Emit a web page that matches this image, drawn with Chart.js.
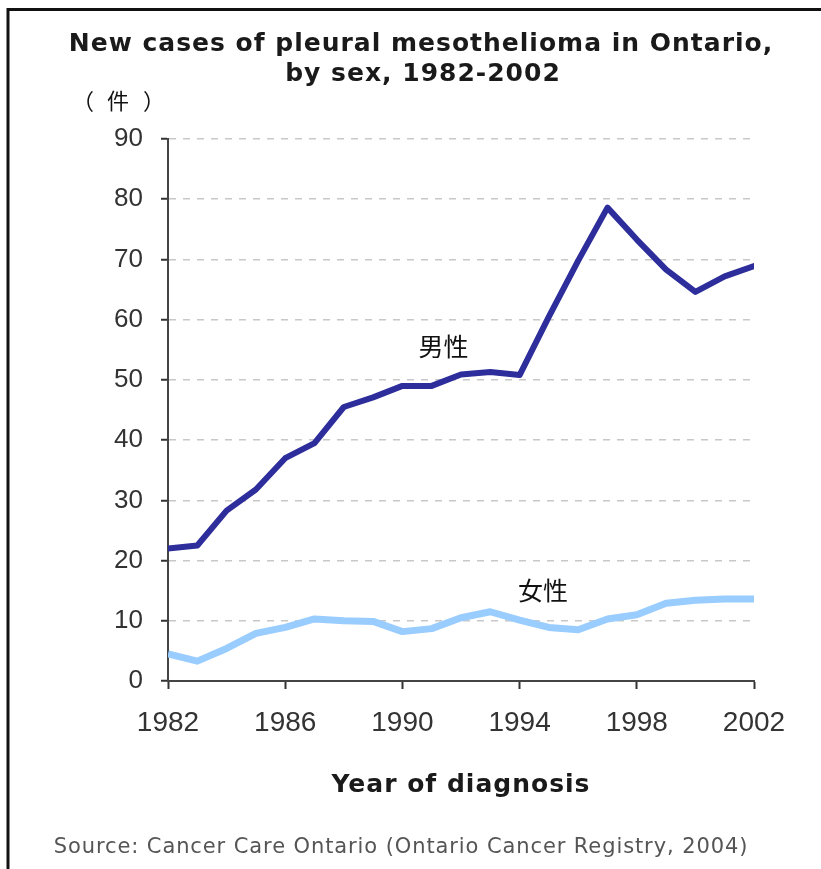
<!DOCTYPE html>
<html>
<head>
<meta charset="utf-8">
<script src="https://cdn.jsdelivr.net/npm/chart.js@4"></script>
<style>
  html, body { margin: 0; padding: 0; background: #fff; }
  #wrap { position: absolute; left: 0; top: 0; width: 821px; height: 869px; }
</style>
</head>
<body>
<div id="wrap"><canvas id="c" width="821" height="869"></canvas></div>
<script>
const years = [1982,1983,1984,1985,1986,1987,1988,1989,1990,1991,1992,1993,1994,1995,1996,1997,1998,1999,2000,2001,2002];
const maleCases = [22,22.5,28.3,31.8,37,39.5,45.5,47.1,49,49,50.9,51.3,50.8,60.5,69.8,78.6,73.3,68.3,64.6,67.2,68.9];
const femaleCases = [4.5,3.3,5.4,7.9,8.9,10.3,10,9.9,8.2,8.7,10.5,11.5,10.1,8.9,8.5,10.3,11,12.9,13.4,13.6,13.6];
const xTicks = [1982,1986,1990,1994,1998,2002];
const yTicks = [0,10,20,30,40,50,60,70,80,90];
const seriesLabels = ['男性','女性'];
const titleLines = ['New cases of pleural mesothelioma in Ontario,', 'by sex, 1982-2002'];
const unitParts = ['（', '件', '）'];
const xAxisTitle = 'Year of diagnosis';
const sourceText = 'Source: Cancer Care Ontario (Ontario Cancer Registry, 2004)';
const maleLabelPos = {x: 1991.4, y: 55.5};
const femaleLabelPos = {x: 1994.8, y: 15.1};

const toPts = (vals) => years.map((yr, i) => ({x: yr, y: vals[i]}));

const decor = {
  id: 'decor',
  afterDraw(chart) {
    const ctx = chart.ctx;
    const xs = chart.scales.x, ys = chart.scales.y;
    const ca = chart.chartArea;
    ctx.save();
    // frame
    ctx.strokeStyle = '#111';
    ctx.lineWidth = 3;
    ctx.beginPath();
    ctx.moveTo(8, 869);
    ctx.lineTo(8, 9.5);
    ctx.lineTo(821, 9.5);
    ctx.stroke();
    // title
    ctx.fillStyle = '#1a1a1a';
    ctx.textAlign = 'center';
    ctx.textBaseline = 'alphabetic';
    ctx.font = 'bold 25px "DejaVu Sans", Verdana, sans-serif';
    ctx.letterSpacing = '1px';
    ctx.fillText(titleLines[0], 421, 51);
    ctx.fillText(titleLines[1], 423, 81);
    // x axis title
    ctx.fillText(xAxisTitle, (ca.left + ca.right) / 2, 792);
    // source
    ctx.font = '21px "DejaVu Sans", Verdana, sans-serif';
    ctx.letterSpacing = '0.9px';
    ctx.fillStyle = '#555';
    ctx.fillText(sourceText, 401, 853);
    ctx.letterSpacing = '0px';
    // unit
    ctx.font = '22px "Noto Sans CJK JP", sans-serif';
    ctx.textBaseline = 'middle';
    ctx.fillStyle = '#111';
    ctx.fillText(unitParts[0], 83, 101);
    ctx.fillText(unitParts[1], 118, 101);
    ctx.fillText(unitParts[2], 154, 101);
    // series labels
    ctx.font = '25px "Noto Sans CJK JP", sans-serif';
    ctx.fillText(seriesLabels[0], xs.getPixelForValue(maleLabelPos.x), ys.getPixelForValue(maleLabelPos.y));
    ctx.fillText(seriesLabels[1], xs.getPixelForValue(femaleLabelPos.x), ys.getPixelForValue(femaleLabelPos.y));
    ctx.restore();
  }
};

new Chart(document.getElementById('c'), {
  type: 'line',
  data: {
    datasets: [
      { label: seriesLabels[0], data: toPts(maleCases), borderColor: '#2d2d9b', borderWidth: 6, pointRadius: 0, tension: 0, fill: false, borderCapStyle: 'round', borderJoinStyle: 'round' },
      { label: seriesLabels[1], data: toPts(femaleCases), borderColor: '#99ccff', borderWidth: 7, pointRadius: 0, tension: 0, fill: false, borderCapStyle: 'butt', borderJoinStyle: 'round' }
    ]
  },
  options: {
    responsive: false,
    animation: false,
    events: [],
    layout: { padding: { top: 139, right: 67, left: 0, bottom: 0 } },
    plugins: { legend: { display: false }, tooltip: { enabled: false }, title: { display: false } },
    scales: {
      x: {
        type: 'linear', min: 1982, max: 2002,
        afterFit: (s) => { s.height = 188; },
        afterBuildTicks: (s) => { s.ticks = xTicks.map(v => ({value: v})); },
        ticks: { callback: (v) => String(v), color: '#333', padding: 17, maxRotation: 0, autoSkip: false,
                 font: { family: '"Liberation Sans Narrow", "Arial Narrow", "Liberation Sans", sans-serif', size: 28 } },
        grid: { drawOnChartArea: false, drawTicks: true, tickLength: 8, tickColor: '#333', tickWidth: 2 },
        border: { display: true, color: '#444', width: 2 }
      },
      y: {
        min: 0, max: 90,
        afterFit: (s) => { s.width = 168; },
        afterBuildTicks: (s) => { s.ticks = yTicks.map(v => ({value: v})); },
        ticks: { color: '#333', padding: 18, autoSkip: false,
                 font: { family: '"Liberation Sans Narrow", "Arial Narrow", "Liberation Sans", sans-serif', size: 26 } },
        grid: { color: '#c8c8c8', lineWidth: 1.5, drawTicks: true, tickLength: 7, tickColor: '#333', tickWidth: 2, tickBorderDash: [] },
        border: { display: true, color: '#444', width: 2, dash: [7, 7] }
      }
    }
  },
  plugins: [decor]
});
</script>
</body>
</html>
